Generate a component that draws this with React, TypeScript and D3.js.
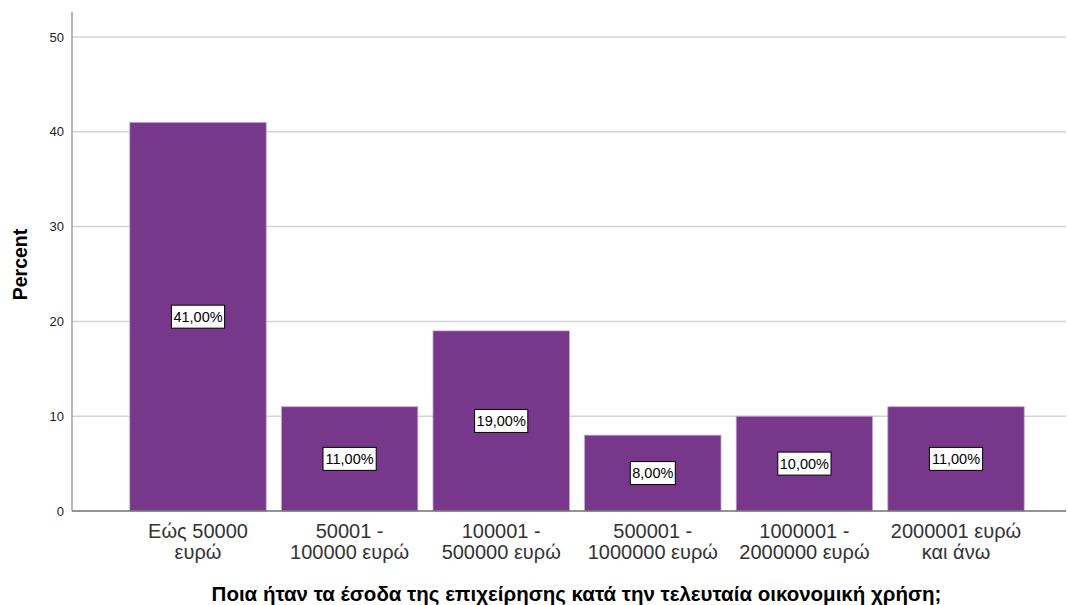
import React from "react";
import * as d3 from "d3";

const categories: string[][] = [
  ["Εώς 50000", "ευρώ"],
  ["50001 -", "100000 ευρώ"],
  ["100001 -", "500000 ευρώ"],
  ["500001 -", "1000000 ευρώ"],
  ["1000001 -", "2000000 ευρώ"],
  ["2000001 ευρώ", "και άνω"],
];
const percents: number[] = [41, 11, 19, 8, 10, 11];
const yTicks: number[] = [0, 10, 20, 30, 40, 50];
const yTitle = "Percent";
const xTitle = "Ποια ήταν τα έσοδα της επιχείρησης κατά την τελευταία οικονομική χρήση;";

const W = 1068;
const H = 605;
const FONT = "'Liberation Sans', Arial, sans-serif";
const BAR = "#77388b";

export default function App() {
  const keys = categories.map((c) => c.join(" "));
  const x = d3
    .scaleBand<string>()
    .domain(keys)
    .range([122.2, 1031.8])
    .paddingInner(0.1)
    .paddingOuter(0.05);
  const y = d3.scaleLinear().domain([0, 50]).range([511, 37]);
  const axisLeft = 72;
  const plotRight = 1066;
  const fmt = (v: number) => v.toFixed(2).replace(".", ",") + "%";
  const labelFont = 14.5;

  return (
    <svg
      width={W}
      height={H}
      style={{ position: "absolute", left: 0, top: 0, fontFamily: FONT }}
    >
      <rect width={W} height={H} fill="#fff" />
      {yTicks.map((t) => (
        <g key={t}>
          {t > 0 && (
            <line
              x1={axisLeft}
              x2={plotRight}
              y1={y(t)}
              y2={y(t)}
              stroke="#d4d4d4"
              strokeWidth={1.5}
            />
          )}
          <text
            x={64}
            y={y(t)}
            dy="0.35em"
            textAnchor="end"
            fontSize={13}
            fill="#222"
          >
            {t}
          </text>
        </g>
      ))}
      {percents.map((v, i) => {
        const x0 = x(keys[i])!;
        const bw = x.bandwidth();
        return (
          <rect
            key={keys[i]}
            x={x0}
            y={y(v)}
            width={bw}
            height={y(0) - y(v)}
            fill={BAR}
            stroke="#c7a8d2"
            strokeWidth={0.8}
          />
        );
      })}
      <line x1={axisLeft} x2={axisLeft} y1={12} y2={511} stroke="#a0a0a0" strokeWidth={1.5} />
      <line x1={axisLeft} x2={plotRight} y1={511} y2={511} stroke="#707070" strokeWidth={1.5} />
      {percents.map((v, i) => {
        const cx = x(keys[i])! + x.bandwidth() / 2;
        const cy = y(v / 2);
        const label = fmt(v);
        const bw = label.length * 8.2 + 4;
        return (
          <g key={"l" + i}>
            <rect
              x={cx - bw / 2}
              y={cy - 11.5}
              width={bw}
              height={23}
              fill="#fff"
              stroke="#000"
              strokeWidth={1}
            />
            <text x={cx} y={cy} dy="0.36em" textAnchor="middle" fontSize={labelFont} fill="#000">
              {label}
            </text>
          </g>
        );
      })}
      {categories.map((lines, i) => {
        const cx = x(keys[i])! + x.bandwidth() / 2;
        return (
          <text key={"c" + i} textAnchor="middle" fontSize={20} fill="#333">
            {lines.map((ln, j) => (
              <tspan key={j} x={cx} y={538 + j * 20.5}>
                {ln}
              </tspan>
            ))}
          </text>
        );
      })}
      <text
        transform={`translate(27,${y(26)}) rotate(-90)`}
        textAnchor="middle"
        fontSize={19.5}
        fontWeight="bold"
        fill="#000"
      >
        {yTitle}
      </text>
      <text x={576.5} y={601} textAnchor="middle" fontSize={20.5} fontWeight="bold" fill="#000">
        {xTitle}
      </text>
    </svg>
  );
}
